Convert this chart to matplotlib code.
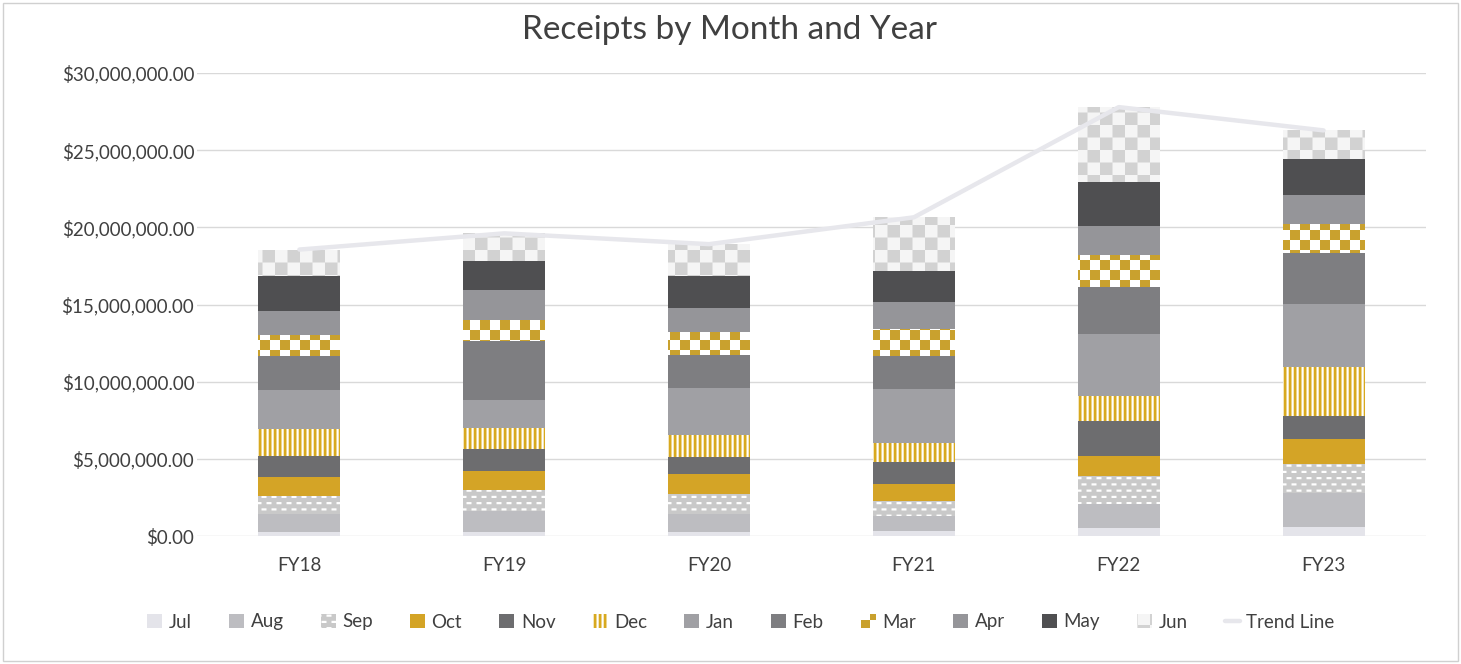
import numpy as np
import matplotlib
matplotlib.use("Agg")
import matplotlib.pyplot as plt
import matplotlib.hatch as mhatch
from matplotlib.path import Path
from matplotlib.ticker import FuncFormatter

# ---------------- data (values in millions of dollars) ----------------
years = ["FY18", "FY19", "FY20", "FY21", "FY22", "FY23"]
months = ["Jul", "Aug", "Sep", "Oct", "Nov", "Dec",
          "Jan", "Feb", "Mar", "Apr", "May", "Jun"]
jul = [0.29, 0.26, 0.28, 0.32, 0.54, 0.60]
aug = [1.12, 1.34, 1.14, 0.97, 1.51, 2.19]
sep = [1.19, 1.36, 1.27, 0.97, 1.84, 1.86]
oct_ = [1.21, 1.23, 1.32, 1.08, 1.30, 1.62]
nov = [1.38, 1.47, 1.08, 1.47, 2.27, 1.51]
dec = [1.73, 1.34, 1.47, 1.23, 1.62, 3.20]
jan = [2.55, 1.80, 3.03, 3.46, 4.00, 4.05]
feb = [2.21, 3.85, 2.17, 2.17, 3.03, 3.31]
mar = [1.36, 1.34, 1.45, 1.73, 2.12, 1.88]
apr = [1.52, 1.95, 1.54, 1.73, 1.88, 1.88]
may = [2.27, 1.88, 2.10, 2.06, 2.81, 2.34]
jun = [1.73, 1.79, 2.06, 3.46, 4.87, 1.84]
series = [jul, aug, sep, oct_, nov, dec, jan, feb, mar, apr, may, jun]
yticks = [0, 5, 10, 15, 20, 25, 30]

# ---------------- custom fill patterns ----------------
plt.rcParams['hatch.linewidth'] = 0.001


class _RectPattern(mhatch.HatchPatternBase):
    char = ''

    def __init__(self, hatch, density):
        self.rects = self.make_rects() if hatch.count(self.char) else []
        self.num_vertices = 5 * len(self.rects)

    @staticmethod
    def _wrap(x, y, w, h):
        out = []
        if x + w > 1.0:
            out.append((x, y, 1.0 - x, h))
            out.append((0.0, y, x + w - 1.0, h))
        else:
            out.append((x, y, w, h))
        return out

    def set_vertices_and_codes(self, vertices, codes):
        for k, (x, y, w, h) in enumerate(self.rects):
            vertices[5 * k:5 * k + 5] = [(x, y), (x + w, y), (x + w, y + h),
                                         (x, y + h), (x, y)]
            codes[5 * k:5 * k + 5] = [Path.MOVETO, Path.LINETO, Path.LINETO,
                                      Path.LINETO, Path.CLOSEPOLY]


class Checker10(_RectPattern):
    char = 'O'

    def make_rects(self):
        n = 10
        s = 1.0 / n
        return [(i * s, j * s, s, s) for i in range(n) for j in range(n)
                if (i + j) % 2 == 0]


class Checker8(_RectPattern):
    char = '*'

    def make_rects(self):
        n = 8
        s = 1.0 / n
        return [(i * s, j * s, s, s) for i in range(n) for j in range(n)
                if (i + j) % 2 == 0]


class Dashes(_RectPattern):
    char = 'o'

    def make_rects(self):
        cols, rows = 10, 16
        rects = []
        for j in range(rows):
            y = j / rows + 0.02
            off = 0.015 if j % 2 == 0 else 0.065
            for i in range(cols):
                rects += self._wrap(i / cols + off, y, 0.05, 0.022)
        return rects


class Stripes(_RectPattern):
    char = '|'

    def make_rects(self):
        n = 20
        return [(i / n + 0.015, 0.0, 0.022, 1.0) for i in range(n)]


mhatch._hatch_types = [Checker10, Checker8, Dashes, Stripes]

# ---------------- styles ----------------
face = ['#e4e4ea', '#bdbdc1', '#c9c9c9', '#d4a426', '#6d6d6f', '#d8a91f',
        '#a0a0a4', '#7e7e81', '#c9a12e', '#959599', '#4f4f51', '#f5f5f5']
hatch_col = [None, None, '#ffffff', None, None, '#ffffff',
             None, None, '#ffffff', None, None, '#d2d2d2']
hatches = [None, None, 'o', None, None, '|', None, None, 'O', None, None, '*']

text_col = '#404040'
plt.rcParams['font.family'] = ['Lato', 'DejaVu Sans']

fig = plt.figure(figsize=(14.61, 6.64), dpi=100)
ax = fig.add_axes([197 / 1461, 1 - 536 / 664, (1426 - 197) / 1461, (536 - 73) / 664])

x = np.arange(len(years))
bottom = np.zeros(len(years))
bar_handles = []
for i, (name, vals) in enumerate(zip(months, series)):
    v = np.array(vals) * 1e6
    kw = dict(color=face[i], linewidth=0)
    if hatches[i]:
        kw.update(hatch=hatches[i], edgecolor=hatch_col[i])
    bars = ax.bar(x, v, 0.40, bottom=bottom, label=name, zorder=2, **kw)
    bar_handles.append(bars)
    bottom = bottom + v

trend = bottom
trend_line, = ax.plot(x, trend, color='#e7e7ec', lw=3.2, zorder=3, label='Trend Line',
                      solid_capstyle='round')

ax.set_xlim(-0.5, len(years) - 0.5)
ax.set_ylim(0, 30e6)
ax.set_yticks(np.array(yticks) * 1e6)
ax.yaxis.set_major_formatter(FuncFormatter(lambda v, p: "${:,.2f}".format(v)))
ax.set_xticks(x)
ax.set_xticklabels(years)
ax.tick_params(axis='both', length=0, labelsize=13.5, labelcolor=text_col)
ax.tick_params(axis='x', pad=15)
ax.tick_params(axis='y', pad=2)
ax.grid(axis='y', color='#d9d9d9', lw=1, zorder=0)
ax.set_axisbelow(True)
for s in ax.spines.values():
    s.set_visible(False)

fig.text(730 / 1461, 1 - 30 / 664, "Receipts by Month and Year",
         ha='center', va='center', fontsize=24, color=text_col)

handles = bar_handles + [trend_line]
labels = months + ['Trend Line']
leg = fig.legend(handles, labels, loc='center', bbox_to_anchor=(741 / 1461, 1 - 622 / 664),
                 ncol=13, frameon=False, fontsize=13.5, labelcolor=text_col,
                 handlelength=0.8, handleheight=0.8, handletextpad=0.35,
                 columnspacing=1.98)

# chart border
fig.patches.append(plt.Rectangle((0.002, 0.004), 0.996, 0.992, transform=fig.transFigure,
                                 fill=False, edgecolor='#d0d0d0', lw=1))

fig.savefig("out.png", dpi=100)
